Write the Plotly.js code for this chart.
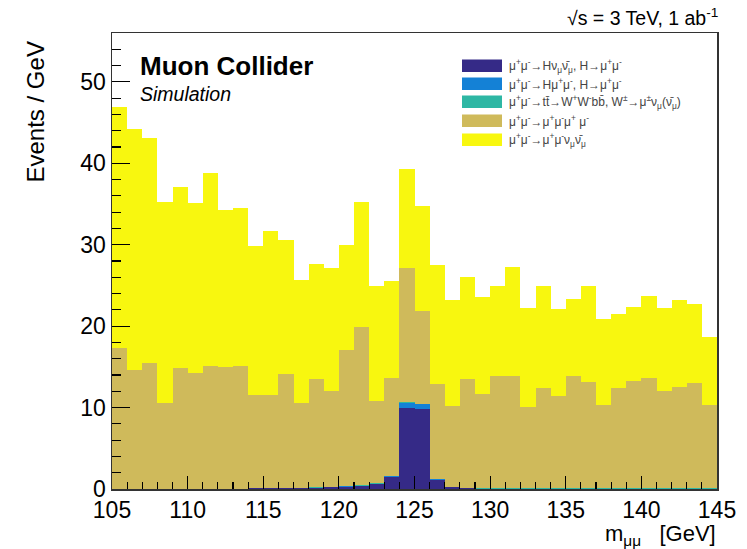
<!DOCTYPE html>
<html><head><meta charset="utf-8">
<script src="https://cdn.plot.ly/plotly-3.0.1.min.js"></script>
<style>html,body{margin:0;padding:0;background:#fff}#chart{width:747px;height:549px}</style>
</head><body><div id="chart"></div>
<script>
// bin centres (1 GeV bins, 105-145 GeV)
const binCenters = [105.5,106.5,107.5,108.5,109.5,110.5,111.5,112.5,113.5,114.5,115.5,116.5,117.5,118.5,119.5,120.5,121.5,122.5,123.5,124.5,125.5,126.5,127.5,128.5,129.5,130.5,131.5,132.5,133.5,134.5,135.5,136.5,137.5,138.5,139.5,140.5,141.5,142.5,143.5,144.5];
// per-sample events / GeV (stack order bottom -> top)
const hNuNu = [0.02,0.02,0.02,0.02,0.02,0.02,0.02,0.02,0.02,0.1,0.1,0.1,0.1,0.15,0.2,0.3,0.35,0.6,1.5,9.9,9.8,1.1,0.2,0.1,0.05,0.05,0.05,0.05,0.05,0.05,0.05,0.05,0.05,0.05,0.05,0.05,0.05,0.05,0.05,0.05];
const hMuMu = [0.01,0.01,0.01,0.01,0.01,0.01,0.01,0.01,0.01,0.01,0.01,0.01,0.01,0.01,0.01,0.02,0.02,0.03,0.08,0.7,0.6,0.08,0.01,0.01,0.01,0.01,0.01,0.01,0.01,0.01,0.01,0.01,0.01,0.01,0.01,0.01,0.01,0.01,0.01,0.01];
const ttbar = [0.03,0.03,0.03,0.03,0.03,0.03,0.03,0.03,0.03,0.04,0.04,0.04,0.04,0.05,0.05,0.06,0.08,0.05,0.04,0.05,0.05,0.04,0.03,0.03,0.03,0.03,0.03,0.03,0.03,0.03,0.03,0.03,0.03,0.03,0.03,0.03,0.03,0.03,0.03,0.03];
const fourMu = [17.3,14.5,15.4,10.5,14.8,14.2,15.1,14.9,15.1,11.45,11.45,13.95,10.45,13.3,11.75,16.7,19.45,10.1,12.0,16.55,11.45,11.7,9.95,13.35,11.6,13.8,13.8,10.0,12.3,11.3,13.8,13.0,10.2,12.3,13.2,13.5,11.9,12.4,12.9,10.2];
const muMuNuNu = [29.6,29.6,27.6,24.7,22.2,20.9,23.6,19.3,19.4,18.3,20.1,16.5,15.1,14.1,15.1,12.9,15.3,14.1,11.9,12.1,12.8,14.6,13.0,12.5,11.9,11.1,13.4,12.2,12.6,10.7,9.4,11.8,10.6,9.1,9.1,10.1,10.3,10.7,9.7,8.4];

const sampleNames = [
  "μ<sup>+</sup>μ<sup>-</sup>→Hν<sub>μ</sub>ν̄<sub>μ</sub>, H→μ<sup>+</sup>μ<sup>-</sup>",
  "μ<sup>+</sup>μ<sup>-</sup>→Hμ<sup>+</sup>μ<sup>-</sup>, H→μ<sup>+</sup>μ<sup>-</sup>",
  "μ<sup>+</sup>μ<sup>-</sup>→tt̄→W<sup>+</sup>W<sup>-</sup>bb̄, W<sup>±</sup>→μ<sup>±</sup>ν<sub>μ</sub>(ν̄<sub>μ</sub>)",
  "μ<sup>+</sup>μ<sup>-</sup>→μ<sup>+</sup>μ<sup>-</sup>μ<sup>+</sup> μ<sup>-</sup>",
  "μ<sup>+</sup>μ<sup>-</sup>→μ<sup>+</sup>μ<sup>-</sup>ν<sub>μ</sub>ν̄<sub>μ</sub>"
];
const sampleColors = ["#352a87","#1481d6","#2eb7a4","#cfba5b","#f8f70f"];
const sampleValues = [hNuNu, hMuMu, ttbar, fourMu, muMuNuNu];

const xTickVals = [105,110,115,120,125,130,135,140,145];
const yTickVals = [0,10,20,30,40,50];

const traces = sampleValues.map((v,i)=>({
  type:'bar', x:binCenters, y:v, width:1, name:sampleNames[i],
  marker:{color:sampleColors[i], line:{width:0}}, showlegend:false, hoverinfo:'skip'
}));

const font = "Liberation Sans, Arial, sans-serif";
const shapes = [], annotations = [];
// manual legend (paper coords)
const legX0 = (461.7-111.7)/605, legX1 = (501.7-111.7)/605;
const rowY = [66,84,102,121,140];
rowY.forEach((yc,i)=>{
  const yp = (489.3-yc)/456;
  const h = 6.3/456;
  shapes.push({type:'rect', xref:'paper', yref:'paper', x0:legX0, x1:legX1, y0:yp-h, y1:yp+h, fillcolor:sampleColors[i], line:{width:0}});
  annotations.push({xref:'paper', yref:'paper', x:(507-111.7)/605, y:yp, xanchor:'left', yanchor:'middle', showarrow:false, text:sampleNames[i], font:{family:font, size:12, color:'#444'}});
});
annotations.push(
  {xref:'paper', yref:'paper', x:(138-111.7)/605, y:(489.3-66)/456, xanchor:'left', yanchor:'middle', showarrow:false, text:'<b>Muon Collider</b>', font:{family:font, size:26, color:'#000'}},
  {xref:'paper', yref:'paper', x:(138-111.7)/605, y:(489.3-94)/456, xanchor:'left', yanchor:'middle', showarrow:false, text:'<i>Simulation</i>', font:{family:font, size:19.5, color:'#000'}},
  {xref:'paper', yref:'paper', x:1.005, y:(489.3-17)/456, xanchor:'right', yanchor:'middle', showarrow:false, text:'√s = 3 TeV, 1 ab<sup>-1</sup>', font:{family:font, size:19.5, color:'#000'}},
  {xref:'paper', yref:'paper', x:(35-111.7)/605, y:(489.3-40)/456, xanchor:'center', yanchor:'top', textangle:-90, showarrow:false, text:'Events / GeV', font:{family:font, size:24, color:'#000'}},
  {xref:'paper', yref:'paper', x:1.002, y:(489.3-535)/456, xanchor:'right', yanchor:'middle', showarrow:false, text:'m<sub>μμ</sub>   [GeV]', font:{family:font, size:22, color:'#000'}}
);

const layout = {
  width:747, height:549,
  margin:{l:111.7, r:30.3, t:33.3, b:59.7},
  paper_bgcolor:'#fff', plot_bgcolor:'#fff',
  barmode:'stack', bargap:0,
  showlegend:false,
  font:{family:font, color:'#000'},
  xaxis:{range:[105,145], tickvals:xTickVals, ticktext:xTickVals.map(String), ticks:'inside', ticklen:13, tickwidth:1.2, tickcolor:'#000',
    minor:{dtick:1, tick0:105, ticks:'inside', ticklen:7, tickcolor:'#000', showgrid:false},
    showline:true, linecolor:'#333', linewidth:1.5, mirror:true, showgrid:false, zeroline:false,
    tickfont:{family:font, size:23, color:'#000'}},
  yaxis:{range:[0,56], tickvals:yTickVals, ticktext:yTickVals.map(String), ticks:'inside', ticklen:18, tickwidth:1.2, tickcolor:'#000',
    minor:{dtick:2, ticks:'inside', ticklen:9, tickcolor:'#000', showgrid:false},
    showline:true, linecolor:'#333', linewidth:1.5, mirror:true, showgrid:false, zeroline:false,
    tickfont:{family:font, size:23, color:'#000'}},
  shapes:shapes, annotations:annotations
};
Plotly.newPlot('chart', traces, layout, {staticPlot:true, displayModeBar:false});
</script></body></html>
